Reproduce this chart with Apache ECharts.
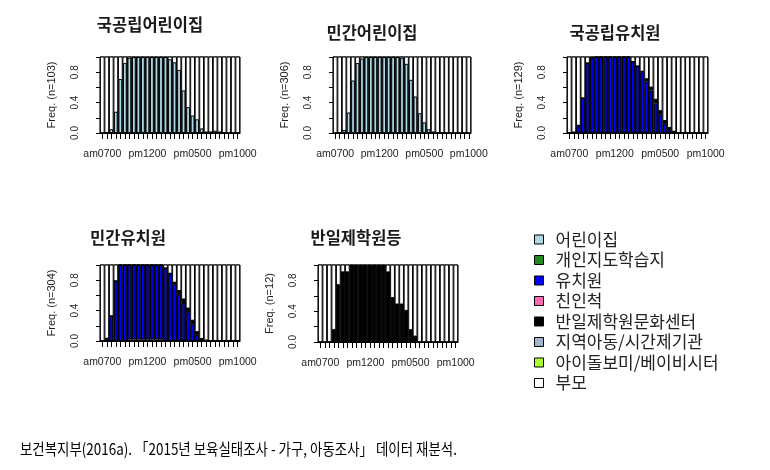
<!DOCTYPE html>
<html>
<head>
<meta charset="utf-8">
<script src="https://cdn.jsdelivr.net/npm/echarts@6/dist/echarts.min.js"></script>
<style>html,body{margin:0;padding:0;background:#fff}#c{width:770px;height:470px}</style>
</head>
<body>
<div id="c"></div>
<script>
// ---- data ----
const timeLabels = ['am0700','am0730','am0800','am0830','am0900','am0930','am1000','am1030','am1100','am1130',
  'pm1200','pm1230','pm0100','pm0130','pm0200','pm0230','pm0300','pm0330','pm0400','pm0430',
  'pm0500','pm0530','pm0600','pm0630','pm0700','pm0730','pm0800','pm0830','pm0900','pm0930','pm1000'];
const panelTitles = ['국공립어린이집','민간어린이집','국공립유치원','민간유치원','반일제학원등'];
const panelN = ['Freq. (n=103)','Freq. (n=306)','Freq. (n=129)','Freq. (n=304)','Freq. (n=12)'];
const yTicks = ['0.0','0.4','0.8'];
const legendNames = ['어린이집','개인지도학습지','유치원','친인척','반일제학원문화센터','지역아동/시간제기관','아이돌보미/베이비시터','부모'];
const legendColors = ['#ADD8E6','#228B22','#0000FF','#FF69B4','#000000','#A2B5CD','#ADFF2F','#FFFFFF'];

// panel 1: 국공립어린이집
const p1Daycare = [0,0.01,0.05,0.28,0.71,0.92,0.99,1,1,1,1,1,1,1,1,0.97,0.93,0.83,0.56,0.34,0.23,0.18,0.06,0.02,0.02,0.03,0.02,0.01,0,0,0];
// panel 2: 민간어린이집
const p2Daycare = [0,0.01,0.04,0.27,0.69,0.92,0.98,1,1,1,1,1,1,1,1,0.99,0.91,0.70,0.48,0.26,0.14,0.05,0.02,0.01,0.01,0,0,0,0,0,0];
// panel 3: 국공립유치원
const p3Kinder = [0,0.01,0.10,0.46,0.92,0.99,1,1,1,1,1,1,1,1,0.94,0.88,0.80,0.68,0.56,0.39,0.24,0.12,0.04,0.01,0,0,0,0,0,0,0];
const p3Hagwon = [0,0,0,0,0,0,0,0,0,0,0,0,0,0,0,0,0.02,0.04,0.05,0.06,0.06,0.05,0.04,0.02,0.01,0.01,0,0,0,0,0];
// panel 4: 민간유치원
const p4Daycare = [0,0,0,0,0,0,0.02,0.02,0.02,0.02,0.02,0.02,0.02,0.02,0,0,0,0,0,0,0,0,0,0,0,0,0,0,0,0,0];
const p4Kinder = [0,0.03,0.33,0.79,1,1,0.98,0.98,0.98,0.98,0.98,0.98,0.98,0.98,0.96,0.89,0.75,0.62,0.50,0.38,0.22,0.08,0.01,0,0,0,0,0,0,0,0];
const p4Hagwon = [0.01,0.01,0,0,0,0,0,0,0,0,0,0,0,0,0,0,0.03,0.05,0.06,0.06,0.06,0.05,0.03,0.02,0.01,0,0,0,0,0,0];
// panel 5: 반일제학원등
const p5Hagwon = [0,0,0,0.167,0.75,0.917,0.917,1,1,1,1,1,1,1,1,0.917,0.583,0.5,0.5,0.417,0.167,0.083,0,0,0,0,0,0,0,0,0];

const caption = '보건복지부(2016a). 「2015년 보육실태조사 - 가구, 아동조사」 데이터 재분석.';

// ---- layout ----
const grids = [
  {left:100, top:57, width:140, height:76},
  {left:333, top:57, width:138, height:76},
  {left:567, top:57, width:141, height:76},
  {left:100, top:265, width:140, height:76},
  {left:318, top:265, width:140, height:77}
];
const titlePos = [[150,16],[372,24],[615,24],[128,229],[356,229]];

const panelSeries = [
  [['어린이집', p1Daycare, 0]],
  [['어린이집', p2Daycare, 0]],
  [['유치원', p3Kinder, 2], ['반일제학원문화센터', p3Hagwon, 4]],
  [['어린이집', p4Daycare, 0], ['유치원', p4Kinder, 2], ['반일제학원문화센터', p4Hagwon, 4]],
  [['반일제학원문화센터', p5Hagwon, 4]]
];

const axisFont = 'Liberation Sans, Arial, sans-serif';
const krFont = '"Noto Sans CJK KR", sans-serif';

const option = {
  animation: false,
  backgroundColor: '#fff',
  title: panelTitles.map((t, i) => ({
    text: t, left: titlePos[i][0], top: titlePos[i][1], textAlign: 'center', padding: 0,
    textStyle: {fontFamily: krFont, fontSize: 16.5, fontWeight: 'bold', color: '#1a1a1a'}
  })),
  grid: grids.map(g => Object.assign({show: true, borderColor: '#000', borderWidth: 1, backgroundColor: 'transparent'}, g)),
  xAxis: grids.map((g, i) => ({
    type: 'category', gridIndex: i, data: timeLabels, boundaryGap: true,
    axisLine: {show: true, lineStyle: {color: '#000', width: 1}},
    axisTick: {show: true, interval: 0, alignWithLabel: true, length: 6, lineStyle: {color: '#000', width: 1}},
    axisLabel: {interval: 9, margin: 16, fontSize: 10.5, color: '#222', fontFamily: axisFont}
  })),
  yAxis: grids.map((g, i) => ({
    type: 'value', gridIndex: i, min: 0, max: 1, interval: 0.2,
    splitLine: {show: false},
    axisLine: {show: true, lineStyle: {color: '#000'}},
    axisTick: {show: true, length: 4, lineStyle: {color: '#000'}},
    axisLabel: {
      rotate: 90, margin: 20,
      fontSize: 10, color: '#222', fontFamily: axisFont,
      formatter: v => { const s = v.toFixed(1); return yTicks.indexOf(s) >= 0 ? s : ''; }
    },
    name: panelN[i], nameLocation: 'middle', nameGap: 43,
    nameTextStyle: {fontSize: 11, color: '#222', fontFamily: axisFont}
  })),
  legend: {
    orient: 'vertical', left: 529, top: 226, icon: 'rect', itemWidth: 9, itemHeight: 9, itemGap: 3.5,
    selectedMode: false,
    itemStyle: {borderColor: '#000', borderWidth: 1},
    textStyle: {fontFamily: krFont, fontSize: 17, color: '#222', padding: [0, 0, 0, 7]},
    data: legendNames
  },
  graphic: [{
    type: 'text', x: 20, y: 449, scaleX: 0.84,
    style: {text: caption, fontFamily: krFont, fontSize: 16, fill: '#000', textVerticalAlign: 'middle'}
  }],
  series: []
};

panelSeries.forEach((list, pi) => {
  list.forEach((s, si) => {
    const ser = {
      type: 'bar', name: s[0], xAxisIndex: pi, yAxisIndex: pi, stack: 'p' + pi,
      data: s[1], barCategoryGap: '16%',
      itemStyle: {color: legendColors[s[2]], borderColor: '#000', borderWidth: 1},
      emphasis: {disabled: true}
    };
    if (si === 0) {
      ser.showBackground = true;
      ser.backgroundStyle = {color: '#fff', borderColor: '#000', borderWidth: 1};
    }
    option.series.push(ser);
  });
});
// legend-only entries (categories not drawn in these panels)
[1, 3, 5, 6, 7].forEach(ci => {
  option.series.push({
    type: 'bar', name: legendNames[ci], xAxisIndex: 0, yAxisIndex: 0, stack: 'p0', data: [],
    barCategoryGap: '16%',
    itemStyle: {color: legendColors[ci], borderColor: '#000', borderWidth: 1}
  });
});

const chart = echarts.init(document.getElementById('c'), null, {renderer: 'canvas'});
chart.setOption(option);
</script>
</body>
</html>
